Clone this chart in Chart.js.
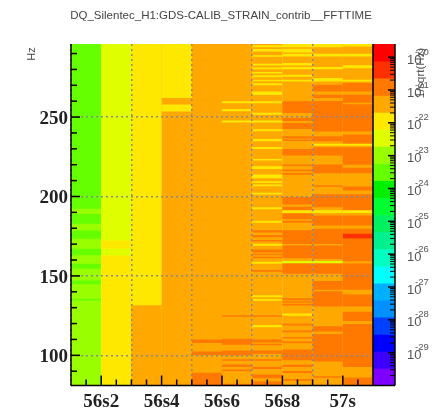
<!DOCTYPE html>
<html>
<head>
<meta charset="utf-8">
<title>DQ_Silentec</title>
<script src="https://cdn.jsdelivr.net/npm/chart.js@4"></script>
<style>
  html, body { margin: 0; padding: 0; background: #fff; }
  #wrap { position: relative; width: 446px; height: 410px; overflow: hidden; }
  canvas { position: absolute; left: 0; top: 0; filter: blur(0.5px); }
</style>
</head>
<body>
<div id="wrap">
  <canvas id="chart" width="446" height="410"></canvas>
  <canvas id="palette" width="446" height="410"></canvas>
</div>
<script>
'use strict';

const titleText = 'DQ_Silentec_H1:GDS-CALIB_STRAIN_contrib__FFTTIME';
const freqLabel = 'Hz';
const paletteLabel = '1/sqrt(Hz)';

// log10 of the amplitude, one name per colour seen in the plot
const RED = -20.4, DARK = -20.9, ORANGE = -21.4, YELLOW = -21.9, LIME = -22.5, LIGHT = -23.0, GREEN = -23.5;

// time bin centres (s) and time ticks
const timeBins = [56.15, 56.25, 56.35, 56.45, 56.55, 56.65, 56.75, 56.85, 56.95, 57.05];
const timeTicks = [56.2, 56.4, 56.6, 56.8, 57];
const timeTickLabels = ['56s2', '56s4', '56s6', '56s8', '57s'];
const timeMinorTicks = [56.15, 56.25, 56.3, 56.35, 56.45, 56.5, 56.55, 56.65, 56.7, 56.75, 56.85, 56.9, 56.95, 57.05];
const freqTicks = [100, 150, 200, 250];
const freqMinorTicks = [90, 110, 120, 130, 140, 160, 170, 180, 190, 210, 220, 230, 240, 260, 270, 280, 290];

// each column: [from Hz, to Hz, log10 amplitude], later rows paint over earlier ones
const col1 = [[81, 296, GREEN], [189.1, 192.2, LIGHT], [178.6, 182.8, LIGHT], [167.1, 173.4, LIGHT], [157.7, 162.9, LIGHT],
  [147.2, 154.5, LIGHT], [135.6, 144.7, LIGHT], [81, 134.4, LIGHT]];
const col2 = [[81, 296, YELLOW], [172.3, 296, LIME], [162.9, 167.1, LIME]];
const col3 = [[81, 296, YELLOW], [81, 131.4, ORANGE]];
const col4 = [[81, 296, ORANGE], [262, 296, YELLOW], [253.6, 257.8, YELLOW]];
const col5 = [[81, 296, ORANGE], [107.8, 109.9, DARK], [100.2, 102.3, DARK], [81, 88.9, DARK]];
const col6 = [[81, 296, ORANGE], [258.8, 259.9, YELLOW], [253.8, 255, YELLOW], [246.6, 247.7, YELLOW], [124.4, 125.2, DARK],
  [106.7, 110.3, DARK], [100, 102.9, DARK], [96.7, 97.5, DARK], [92.7, 94.1, DARK], [90, 91, DARK], [81, 82, DARK]];
const col7 = [[81, 296, ORANGE], [294, 295.1, YELLOW], [291.3, 292.8, YELLOW], [288, 288.8, YELLOW], [282.5, 283.5, YELLOW],
  [280.2, 281.2, YELLOW], [277.5, 278.3, YELLOW], [275.2, 276.2, YELLOW], [272.6, 273.5, YELLOW], [270.1, 271.2, YELLOW],
  [264, 266.1, YELLOW], [258.8, 259.9, YELLOW], [251.5, 252.7, YELLOW], [246.6, 247.7, YELLOW], [241.2, 242.2, YELLOW],
  [234.9, 236.2, YELLOW], [229.9, 231.1, YELLOW], [222.7, 223.6, YELLOW], [217.3, 218.9, YELLOW], [211.5, 213.8, YELLOW],
  [208.6, 209.6, YELLOW], [206.5, 207.5, YELLOW], [201.3, 202.3, YELLOW], [192, 193.1, YELLOW], [183.6, 184.7, YELLOW],
  [177.4, 178.6, DARK], [174.4, 175.7, DARK], [171.8, 172.6, DARK], [169, 170.2, YELLOW], [164.8, 166.5, DARK],
  [163.1, 163.9, DARK], [161.2, 162, DARK], [157.7, 158.9, YELLOW], [152.7, 153.7, DARK], [136.7, 137.7, YELLOW],
  [134.4, 135.4, YELLOW], [124.4, 125.2, DARK], [117.8, 119.1, YELLOW], [108.2, 109.9, DARK], [106.4, 107.2, DARK],
  [101, 102.9, DARK], [96.7, 97.5, DARK], [91.4, 92.7, DARK], [85.7, 87.8, DARK], [81, 83.6, DARK]];
const col8 = [[81, 296, ORANGE], [294, 296, YELLOW], [290.7, 293, YELLOW], [288.2, 289.8, YELLOW], [282.5, 284, YELLOW],
  [280.2, 281.4, YELLOW], [275.4, 276.6, YELLOW], [272.4, 273.5, YELLOW], [252.7, 259.9, DARK], [242.5, 246.2, DARK],
  [247.6, 249.5, DARK], [236.5, 237.8, DARK], [235, 235.8, DARK], [225.9, 229.9, DARK], [219.2, 220, DARK], [216, 216.9, DARK],
  [213.8, 214.7, DARK], [195, 199.6, DARK], [190.8, 193.4, DARK], [189.7, 191.2, YELLOW], [185.7, 189.3, DARK], [183.6, 184.6, DARK],
  [170.2, 178.6, DARK], [161.2, 169, DARK], [158.1, 159.3, LIME], [151.4, 157.7, DARK], [134.8, 135.8, DARK], [133.2, 134, DARK],
  [131.5, 132.4, DARK], [124.9, 126.2, YELLOW], [118.8, 119.8, DARK], [114.6, 115.6, DARK], [110.6, 111.5, DARK], [107.6, 108.6, DARK],
  [96.9, 103.6, DARK], [92.7, 94, DARK], [89, 90, DARK], [84, 85, DARK]];
const col9 = [[81, 296, ORANGE], [294, 296, YELLOW], [288.2, 289.8, YELLOW], [280.2, 281.4, YELLOW], [272.4, 274.5, YELLOW],
  [266.1, 270.3, DARK], [262, 264, DARK], [241, 260, DARK], [234.8, 237.8, DARK], [232, 233.2, YELLOW], [225.9, 231, DARK],
  [214.7, 220, DARK], [206.2, 207, DARK], [193.3, 201.3, DARK], [189.7, 191.2, YELLOW], [181.8, 188, DARK], [170.2, 179.6, DARK],
  [160.7, 169, DARK], [158.1, 159.3, LIME], [151.4, 157.7, DARK], [141.3, 146.7, DARK], [130.8, 140.3, DARK], [115, 118.2, DARK],
  [96.2, 113.4, DARK], [85.9, 86.8, DARK]];
const col10 = [[81, 296, ORANGE], [294.5, 296, YELLOW], [288.2, 289.8, YELLOW], [280.8, 282.5, YELLOW], [272.5, 273.5, YELLOW],
  [266.1, 271.4, DARK], [259, 264, DARK], [241, 258, DARK], [233.2, 239, DARK], [232, 233.2, YELLOW], [220, 231, DARK],
  [214.7, 218, DARK], [203.8, 206.3, DARK], [191.2, 201.3, DARK], [189.7, 191.2, YELLOW], [181.8, 188, DARK], [176.5, 179.6, DARK],
  [173.4, 176.5, RED], [159.3, 173.4, DARK], [141.3, 157.7, DARK], [130.8, 138.2, DARK], [121.7, 127.4, DARK], [92.7, 119.7, DARK],
  [81, 85.9, DARK]];
const columns = [col1, col2, col3, col4, col5, col6, col7, col8, col9, col10];

// colour palette, bottom band first, and the log10 amplitude edges of those bands
const paletteColors = ['#8000ff', '#3c00ff', '#0000ff', '#0040ff', '#0090ff', '#00b0ff', '#00ffff', '#00ffc0', '#00f090', '#00f060',
  '#00ff30', '#00f000', '#66ff00', '#99ff00', '#dfff00', '#ffe800', '#ffa800', '#ff7800', '#ff3000', '#ff0000'];
const paletteEdges = [-30, -29.48, -28.96, -28.44, -27.92, -27.4, -26.88, -26.36, -25.84, -25.32, -24.8,
  -24.28, -23.76, -23.24, -22.72, -22.2, -21.68, -21.16, -20.64, -20.12, -19.6];
const paletteTicks = [-20, -21, -22, -23, -24, -25, -26, -27, -28, -29];
const paletteMinorDecades = [-21, -22, -23, -24, -25, -26, -27, -28, -29, -30];
const paletteMinorSteps = [2, 3, 4, 5, 6, 7, 8, 9];

function colorFor(value) {
  for (let i = 0; i < paletteColors.length; i++) {
    if (value < paletteEdges[i + 1]) {
      return paletteColors[i];
    }
  }
  return paletteColors[paletteColors.length - 1];
}

const cells = [];
for (let i = 0; i < columns.length; i++) {
  for (let j = 0; j < columns[i].length; j++) {
    let row = columns[i][j];
    cells.push({x: timeBins[i], y: [row[0], row[1]], level: row[2]});
  }
}

function line(ctx, x1, y1, x2, y2) {
  ctx.beginPath();
  ctx.moveTo(x1, y1);
  ctx.lineTo(x2, y2);
  ctx.stroke();
}

// ROOT style ticks point into the frame, chart.js only draws them outwards
const mainFrame = {
  id: 'mainFrame',
  afterDraw(chart) {
    const ctx = chart.ctx;
    const a = chart.chartArea;
    const xs = chart.scales.x;
    const ys = chart.scales.y;
    ctx.save();
    ctx.strokeStyle = '#000';
    ctx.lineWidth = 1.5;
    line(ctx, a.left, a.top, a.left, a.bottom);
    line(ctx, a.left, a.bottom, a.right, a.bottom);
    timeTicks.forEach(v => line(ctx, xs.getPixelForValue(v), a.bottom, xs.getPixelForValue(v), a.bottom - 10));
    timeMinorTicks.forEach(v => line(ctx, xs.getPixelForValue(v), a.bottom, xs.getPixelForValue(v), a.bottom - 6));
    freqTicks.forEach(v => line(ctx, a.left, ys.getPixelForValue(v), a.left + 9, ys.getPixelForValue(v)));
    freqMinorTicks.forEach(v => line(ctx, a.left, ys.getPixelForValue(v), a.left + 6, ys.getPixelForValue(v)));

    ctx.fillStyle = '#444';
    ctx.textAlign = 'center';
    ctx.textBaseline = 'middle';
    ctx.font = '11.5px "Liberation Sans"';
    ctx.fillText(titleText, 221, 15.5);
    ctx.translate(32, 54);
    ctx.rotate(-Math.PI / 2);
    ctx.font = '11px "Liberation Sans"';
    ctx.fillText(freqLabel, 0, 0);
    ctx.restore();
  }
};

const paletteFrame = {
  id: 'paletteFrame',
  afterDraw(chart) {
    const ctx = chart.ctx;
    const a = chart.chartArea;
    const ys = chart.scales.y;
    ctx.save();
    ctx.strokeStyle = '#000';
    ctx.lineWidth = 1.5;
    line(ctx, a.left, a.top, a.left, a.bottom);
    line(ctx, a.right, a.top, a.right, a.bottom);
    line(ctx, a.left, a.bottom, a.right, a.bottom);
    ctx.lineWidth = 1;
    paletteMinorDecades.forEach(exp => {
      paletteMinorSteps.forEach(m => {
        const my = ys.getPixelForValue(m * Math.pow(10, exp));
        line(ctx, a.right, my, a.right - 5, my);
      });
    });
    ctx.fillStyle = '#555';
    ctx.textAlign = 'left';
    ctx.textBaseline = 'middle';
    ctx.font = '9.5px "Liberation Sans"';
    paletteTicks.forEach(exp => {
      const py = ys.getPixelForValue(Math.pow(10, exp));
      ctx.lineWidth = 1.5;
      line(ctx, a.right, py, a.right - 7, py);
      ctx.fillText(String(exp), 415, py - 5);
    });
    ctx.font = '11.5px "Liberation Sans"';
    ctx.textAlign = 'center';
    ctx.translate(421, 73);
    ctx.rotate(-Math.PI / 2);
    ctx.fillText(paletteLabel, 0, 0);
    ctx.restore();
  }
};

new Chart(document.getElementById('chart'), {
  type: 'bar',
  plugins: [mainFrame],
  data: {
    datasets: [{
      data: cells,
      backgroundColor: c => colorFor(c.raw.level),
      borderWidth: 0,
      categoryPercentage: 1,
      barPercentage: 1,
      inflateAmount: 0.1
    }]
  },
  options: {
    responsive: false,
    animation: false,
    layout: {padding: {top: 44, right: 73, left: 0, bottom: 0}},
    plugins: {legend: {display: false}, title: {display: false}, tooltip: {enabled: false}},
    scales: {
      x: {
        type: 'linear',
        offset: false,
        min: 56.1,
        max: 57.1,
        afterFit: s => { s.height = 24.5; },
        afterBuildTicks: s => { s.ticks = timeTicks.map(v => ({value: v})); },
        grid: {color: '#8a8a8a', lineWidth: 1.5, tickLength: 0, z: 1},
        border: {display: false, dash: [2, 3]},
        ticks: {
          autoSkip: false,
          maxRotation: 0,
          padding: 5,
          color: '#222',
          font: {family: '"Liberation Serif"', size: 19, weight: 'bold'},
          callback: v => timeTickLabels[timeTicks.indexOf(v)]
        }
      },
      y: {
        type: 'linear',
        min: 81,
        max: 296,
        afterFit: s => { s.width = 71; },
        afterBuildTicks: s => { s.ticks = freqTicks.map(v => ({value: v})); },
        grid: {color: '#8a8a8a', lineWidth: 1.5, tickLength: 0, z: 1},
        border: {display: false, dash: [2, 3]},
        ticks: {
          autoSkip: false,
          padding: 3,
          labelOffset: 2,
          color: '#222',
          font: {family: '"Liberation Serif"', size: 19, weight: 'bold'}
        }
      }
    }
  }
});

const paletteBars = paletteColors.map((color, i) => ({
  x: 'palette',
  y: [Math.pow(10, paletteEdges[i]), Math.pow(10, paletteEdges[i + 1])]
}));

new Chart(document.getElementById('palette'), {
  type: 'bar',
  plugins: [paletteFrame],
  data: {
    labels: ['palette'],
    datasets: [{
      data: paletteBars,
      backgroundColor: paletteColors,
      borderWidth: 0,
      categoryPercentage: 1,
      barPercentage: 1,
      inflateAmount: 0.4
    }]
  },
  options: {
    responsive: false,
    animation: false,
    layout: {padding: {top: 44, left: 373, right: 0, bottom: 24.5}},
    plugins: {legend: {display: false}, title: {display: false}, tooltip: {enabled: false}},
    scales: {
      x: {type: 'category', display: false},
      y: {
        type: 'logarithmic',
        position: 'right',
        min: Math.pow(10, -30),
        max: Math.pow(10, -19.6),
        afterFit: s => { s.width = 51; },
        afterBuildTicks: s => { s.ticks = paletteTicks.map(e => ({value: Math.pow(10, e)})); },
        grid: {display: false},
        border: {display: false},
        ticks: {
          autoSkip: false,
          padding: 4,
          labelOffset: 3,
          color: '#555',
          font: {family: '"Liberation Sans"', size: 13},
          callback: () => '10'
        }
      }
    }
  }
});
</script>
</body>
</html>
